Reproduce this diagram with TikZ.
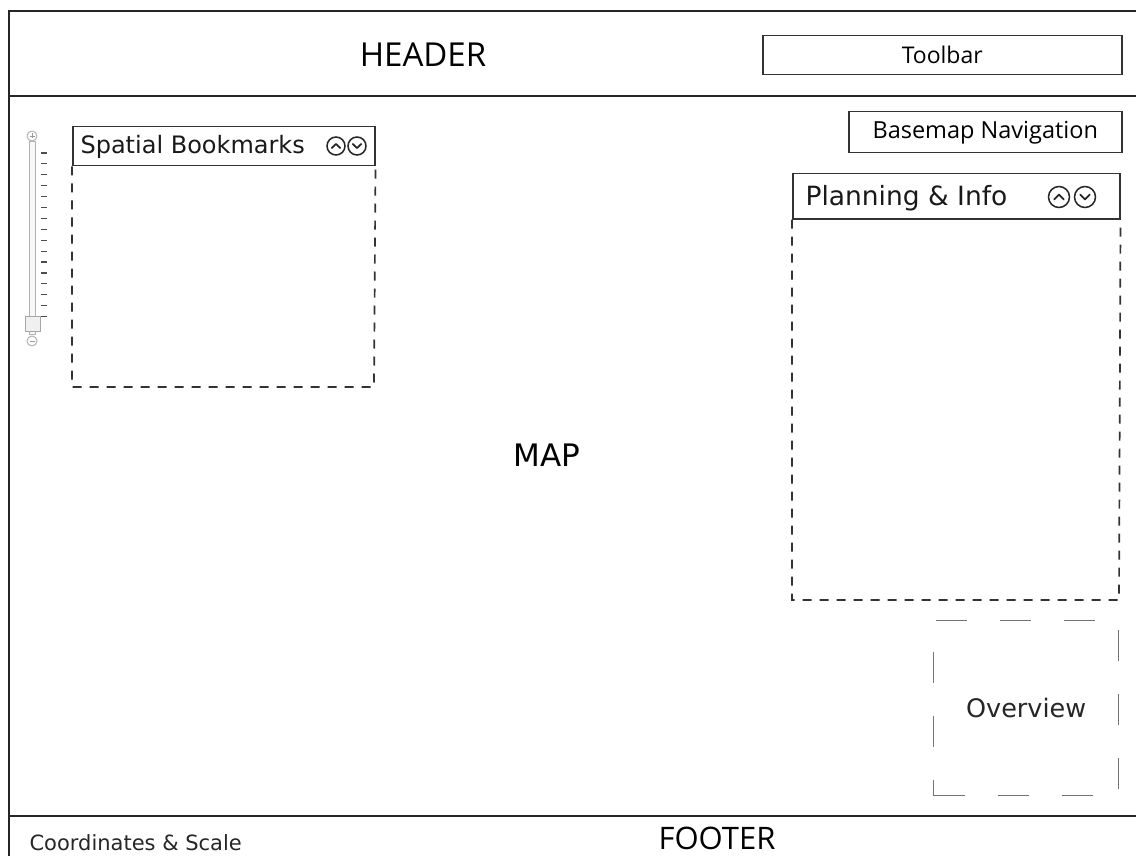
\documentclass[tikz,border=0pt]{standalone}
\usepackage{fontspec}
\setmainfont{DejaVu Sans}
\newfontfamily\narrowfont{Open Sans}
\begin{document}
\begin{tikzpicture}[x=1pt,y=-1pt,
  frameline/.style={draw=black!85, line width=1.8pt},
  solidbox/.style={draw=black!80, line width=1.5pt, rectangle, inner sep=0pt, anchor=north west},
  panelbody/.style={draw=black!80, line width=1.7pt, dash pattern=on 9pt off 8pt},
  overviewbox/.style={draw=black!55, line width=1.3pt, dash pattern=on 31pt off 33pt, rectangle, inner sep=0pt, anchor=north west},
  iconring/.style={circle, draw=black!85, line width=1.5pt, inner sep=0pt},
  chevron/.style={draw=black!85, line width=1.7pt, line cap=round, line join=round},
  tick/.style={draw=black!70, line width=1.2pt}
]
\useasboundingbox (0,0) rectangle (1136,856);

% page frame, header and footer bands
\coordinate (tl) at (9,11);
\coordinate (tr) at (1136,11);
\coordinate (bl) at (9,856);
\coordinate (hl) at (9,96);
\coordinate (hr) at (1136,96);
\coordinate (fl) at (9,816);
\coordinate (fr) at (1136,816);
\draw[frameline] (tr) -- (tl) -- (bl);
\draw[frameline, line width=2.2pt] (hl) -- (hr);
\draw[frameline, line width=2.2pt] (fl) -- (fr);

\node (header) at (423,55) {\narrowfont\fontsize{33}{35}\selectfont HEADER};
\node[solidbox, minimum width=359pt, minimum height=39pt] (toolbar) at (762,35) {};
\node at (toolbar.center) {\narrowfont\fontsize{23}{25}\selectfont Toolbar};

\node (map) at (547,455) {\fontsize{31}{33}\selectfont MAP};

\node (footer) at (717,838) {\narrowfont\fontsize{31}{33}\selectfont FOOTER};
\node[anchor=west] (coords) at (26,843) {\fontsize{21}{23}\selectfont\color{black!85}Coordinates \& Scale};

% zoom slider
\node[draw=black!30, fill=black!3, line width=1pt, rectangle, minimum width=6pt, minimum height=192pt, inner sep=0pt] (track) at (32,238) {};
\node[circle, draw=black!30, fill=white, line width=1pt, minimum size=10pt, inner sep=0pt] (zin) at (32,136) {};
\node[circle, draw=black!30, fill=white, line width=1pt, minimum size=10pt, inner sep=0pt] (zout) at (32,341) {};
\draw[draw=black!40, line width=0.8pt] (zin.center) ++(-2.5,0) -- ++(5,0) (zin.center) ++(0,-2.5) -- ++(0,5);
\draw[draw=black!40, line width=0.8pt] (zout.center) ++(-2.5,0) -- ++(5,0);
\foreach \k in {0,...,15} {
  \draw[tick] (41,{153+\k*10.9}) -- (47,{153+\k*10.9});
}
\node[draw=black!35, fill=black!6, line width=1pt, rectangle, minimum width=15pt, minimum height=15pt, inner sep=0pt] (thumb) at (33,324) {};

% spatial bookmarks panel
\node[solidbox, minimum width=302pt, minimum height=39pt] (sbhead) at (72,126) {};
\node[anchor=west] (sbtitle) at (77,147) {\fontsize{24}{26}\selectfont\color{black!90}Spatial Bookmarks};
\node[iconring, minimum size=18pt] (sbup) at (336,146) {};
\node[iconring, minimum size=18pt] (sbdown) at (357,146) {};
\draw[chevron] (sbup.center) ++(-4.2,2.1) -- ++(4.2,-4.2) -- ++(4.2,4.2);
\draw[chevron] (sbdown.center) ++(-4.2,-2.1) -- ++(4.2,4.2) -- ++(4.2,-4.2);
\coordinate (sbbottom) at (374,387);
\draw[panelbody] (sbhead.south west) |- (sbbottom) -- (sbhead.south east);

% basemap navigation
\node[solidbox, minimum width=273pt, minimum height=41pt] (basemap) at (848,111) {};
\node at (basemap.center) {\narrowfont\fontsize{23.5}{25}\selectfont Basemap Navigation};

% planning & info panel
\node[solidbox, minimum width=327pt, minimum height=45pt] (pihead) at (792,173) {};
\node[anchor=west] (pititle) at (802,198) {\fontsize{26.5}{28}\selectfont\color{black!90}Planning \& Info};
\node[iconring, minimum size=21pt] (piup) at (1059,197) {};
\node[iconring, minimum size=21pt] (pidown) at (1085,197) {};
\draw[chevron] (piup.center) ++(-4.8,2.4) -- ++(4.8,-4.8) -- ++(4.8,4.8);
\draw[chevron] (pidown.center) ++(-4.8,-2.4) -- ++(4.8,4.8) -- ++(4.8,-4.8);
\coordinate (pibottom) at (1119,600);
\draw[panelbody] (pihead.south west) |- (pibottom) -- (pihead.south east);

% overview map
\node[overviewbox, minimum width=185pt, minimum height=175pt] (overview) at (933,620) {};
\node at (overview.center) {\fontsize{25.5}{27}\selectfont\color{black!85}Overview};
\end{tikzpicture}
\end{document}
